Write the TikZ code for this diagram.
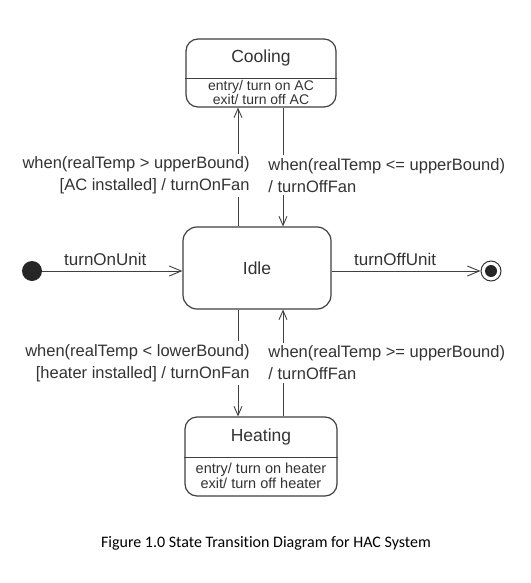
\documentclass[tikz,border=0pt]{standalone}
\usepackage{fontspec}
\setmainfont{Liberation Sans}
\newfontfamily\capfont[Ligatures=NoCommon]{Carlito}
\usepackage{tikz}
\usetikzlibrary{arrows.meta}

\tikzset{
  statebox/.style={draw=black!75,line width=1.2pt,rounded corners=12pt,fill=white},
  trans/.style={draw=black!75,line width=0.9pt,-{Straight Barb[length=9pt,width=8pt,line width=0.9pt]}},
  bigtrans/.style={trans,-{Straight Barb[length=12pt,width=10pt,line width=0.9pt]}},
  guard/.style={fill=white,inner sep=3pt,text=black!80,font=\fontsize{16.5}{22}\selectfont},
  title/.style={text=black!80,font=\fontsize{17.5}{20}\selectfont},
  activity/.style={text=black!80,font=\fontsize{14.5}{15}\selectfont,align=center},
  evlabel/.style={text=black!80,font=\fontsize{17}{20}\selectfont}
}

\begin{document}
\begin{tikzpicture}[x=1pt,y=-1pt]
		\useasboundingbox (0,0) rectangle (530,583);
		% STATES
		\node (cooling) [statebox,minimum width=150pt,minimum height=68pt] at (261,73) {};
		\node (idle) [statebox,rounded corners=14pt,minimum width=148pt,minimum height=82pt] at (257,268) {};
		\node (heating) [statebox,minimum width=152pt,minimum height=79pt] at (261,456.5) {};
		\draw [black!75,line width=1pt] (cooling.west |- 0,79) -- (cooling.east |- 0,79);
		\draw [black!75,line width=1pt] (heating.west |- 0,457) -- (heating.east |- 0,457);
		\node [title] at (261,58) {Cooling};
		\node [title] at (257,268) {Idle};
		\node [title] at (261,437) {Heating};
		\node [activity,font=\fontsize{14}{12.5}\selectfont] at (261,92.5) {entry/ turn on AC\\exit/ turn off AC};
		\node [activity] at (261,476) {entry/ turn on heater\\exit/ turn off heater};
		% PSEUDO STATES
		\node (init) [circle,fill=black!85,minimum size=20pt,inner sep=0pt] at (32,271) {};
		\node (final) [circle,draw=black!80,line width=1pt,minimum size=20pt,inner sep=0pt] at (491,271) {};
		\node (finaldot) [circle,fill=black!85,minimum size=12pt,inner sep=0pt] at (final) {};
		% TRANSITIONS
		\coordinate (lx) at (238,0);
		\coordinate (rx) at (283,0);
		\draw [bigtrans] (init) -- node [evlabel,above=2pt,xshift=-7pt] {turnOnUnit} (init -| idle.west);
		\draw [bigtrans] (idle.east |- final) -- node [evlabel,above=2pt,xshift=-11pt] {turnOffUnit} (final);
		\draw [trans] (idle.north -| lx) -- node [guard,pos=0.43,anchor=east,xshift=15pt,align=right]
			{when(realTemp > upperBound)\\{[}AC installed{]} / turnOnFan} (cooling.south -| lx);
		\draw [trans] (cooling.south -| rx) -- node [guard,pos=0.57,anchor=west,xshift=-18pt,align=left]
			{when(realTemp <= upperBound)\\/ turnOffFan} (idle.north -| rx);
		\draw [trans] (idle.south -| lx) -- node [guard,pos=0.5,anchor=east,xshift=15pt,align=right]
			{when(realTemp < lowerBound)\\{[}heater installed{]} / turnOnFan} (heating.north -| lx);
		\draw [trans] (heating.north -| rx) -- node [guard,pos=0.5,anchor=west,xshift=-18pt,align=left]
			{when(realTemp >= upperBound)\\/ turnOffFan} (idle.south -| rx);
		% CAPTION
		\node (caption) [font=\capfont\fontsize{16}{18}\selectfont] at (266,543) {Figure 1.0 State Transition Diagram for HAC System};
\end{tikzpicture}
\end{document}
